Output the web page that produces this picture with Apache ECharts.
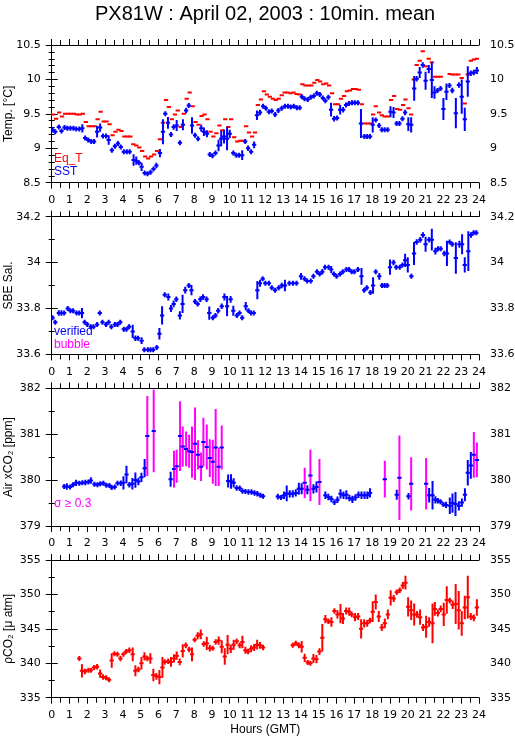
<!DOCTYPE html>
<html>
<head>
<meta charset="utf-8">
<script src="https://cdn.jsdelivr.net/npm/echarts@6/dist/echarts.min.js"></script>
<style>
  html, body { margin: 0; padding: 0; background: #fff; }
  #main { width: 515px; height: 739px; }
</style>
</head>
<body>
<div id="main"></div>
<script>
// [hour GMT, value] and [hour GMT, value, half error bar]
var eqT = [
  [0.08,9.49],[0.25,9.43],[0.42,9.52],[0.58,9.46],[0.75,9.50],[0.92,9.50],[1.08,9.50],[1.25,9.50],[1.42,9.49],[1.58,9.49],
  [1.75,9.50],[1.92,9.38],[2.08,9.32],[2.25,9.32],[2.42,9.32],[2.58,9.42],[2.75,9.53],[2.92,9.39],[3.08,9.39],[3.25,9.35],
  [3.42,9.19],[3.58,9.24],[3.75,9.27],[3.92,9.25],[4.08,9.17],[4.25,9.17],[4.42,9.17],[4.58,9.06],[4.75,9.04],[4.92,9.01],
  [5.08,8.96],[5.25,8.88],[5.42,8.85],[5.58,8.88],[5.75,8.91],[5.92,8.96],[6.08,9.13],[6.25,9.37],[6.42,9.70],[6.58,9.60],
  [6.75,9.42],[6.92,9.49],[7.08,9.55],[7.25,9.31],[7.42,9.50],[7.58,9.72],[7.75,9.81],[7.92,9.61],[8.08,9.38],[8.25,9.34],
  [8.42,9.47],[8.58,9.49],[8.75,9.42],[8.92,9.24],[9.08,9.17],[9.25,9.22],[9.42,9.33],[9.58,9.26],[9.75,9.42],[9.92,9.31],
  [10.08,9.42],[10.25,9.16],[10.42,9.10],[10.58,9.11],[10.75,9.11],[10.92,9.32],[11.08,9.23],[11.25,9.17],[11.42,9.23],
  [11.58,9.63],[11.75,9.71],[11.92,9.83],[12.08,9.78],[12.25,9.75],[12.42,9.72],[12.58,9.70],[12.75,9.72],[12.92,9.77],
  [13.08,9.81],[13.25,9.81],[13.42,9.80],[13.58,9.81],[13.75,9.79],[13.92,9.78],[14.08,9.93],[14.25,9.91],[14.42,9.91],
  [14.58,9.91],[14.75,9.95],[14.92,9.99],[15.08,9.97],[15.25,9.93],[15.42,9.94],[15.58,9.91],[15.75,9.80],[15.92,9.64],
  [16.08,9.64],[16.25,9.72],[16.42,9.76],[16.58,9.83],[16.75,9.84],[16.92,9.86],[17.08,9.86],[17.25,9.85],[17.42,9.64],
  [17.58,9.36],[17.75,9.36],[17.92,9.36],[18.05,9.49],[18.2,9.61],[18.39,9.52],[18.54,9.48],[18.7,9.46],[18.87,9.46],
  [19.06,9.70],[19.23,9.76],[19.4,9.57],[19.57,9.56],[19.74,9.63],[19.87,9.71],[20.04,9.58],[20.19,9.49],[20.33,10.00],
  [20.5,10.21],[20.67,10.27],[20.84,10.41],[21.0,10.19],[21.18,10.30],[21.35,10.25],[21.52,10.04],[21.68,10.04],[21.85,10.04],
  [22.35,10.08],[22.5,10.07],[22.67,10.07],[22.84,10.07],[23.03,10.02],[23.2,9.65],[23.37,10.07],[23.54,10.27],[23.71,10.29],[23.88,10.30]
];
var sst = [
  [0.05,9.27,0.04],[0.2,9.24,0.03],[0.4,9.31,0.03],[0.55,9.25,0.03],[0.72,9.30,0.03],[0.88,9.29,0.02],[1.05,9.29,0.02],
  [1.22,9.29,0.02],[1.38,9.28,0.02],[1.55,9.28,0.02],[1.72,9.29,0.06],[1.88,9.15,0.03],[2.05,9.12,0.02],[2.22,9.10,0.02],
  [2.38,9.10,0.02],[2.55,9.24,0.085],[2.72,9.30,0.06],[2.88,9.18,0.02],[3.05,9.18,0.02],[3.2,9.12,0.07],[3.38,8.97,0.02],
  [3.55,9.03,0.03],[3.72,9.07,0.03],[3.88,9.02,0.03],[4.05,8.95,0.02],[4.22,8.95,0.02],[4.38,8.95,0.02],[4.6,8.83,0.085],
  [4.75,8.82,0.06],[4.9,8.79,0.03],[5.05,8.73,0.06],[5.22,8.64,0.03],[5.38,8.63,0.02],[5.55,8.65,0.02],[5.72,8.70,0.03],
  [5.88,8.75,0.04],[6.08,8.93,0.06],[6.25,9.24,0.18],[6.38,9.50,0.03],[6.53,9.37,0.085],[6.7,9.20,0.03],[6.85,9.31,0.04],
  [7.02,9.33,0.08],[7.2,9.08,0.03],[7.37,9.34,0.08],[7.55,9.55,0.04],[7.7,9.62,0.02],[7.88,9.33,0.12],[8.05,9.19,0.03],
  [8.22,9.14,0.03],[8.4,9.29,0.05],[8.55,9.24,0.06],[8.72,9.21,0.05],[8.88,8.91,0.03],[9.03,8.89,0.02],[9.2,8.93,0.02],
  [9.37,9.04,0.085],[9.52,9.14,0.11],[9.68,9.17,0.1],[9.85,9.14,0.17],[10.0,9.21,0.06],[10.2,8.93,0.03],[10.37,8.90,0.02],
  [10.53,8.90,0.03],[10.7,8.90,0.07],[10.87,9.10,0.03],[11.03,9.00,0.04],[11.2,8.95,0.02],[11.37,9.05,0.05],[11.53,9.48,0.07],
  [11.7,9.52,0.04],[11.87,9.61,0.02],[12.03,9.58,0.02],[12.2,9.53,0.02],[12.36,9.54,0.02],[12.55,9.49,0.03],[12.73,9.55,0.02],
  [12.92,9.58,0.02],[13.1,9.61,0.02],[13.27,9.61,0.02],[13.43,9.60,0.02],[13.6,9.61,0.02],[13.77,9.59,0.02],[13.93,9.59,0.02],
  [14.05,9.75,0.03],[14.2,9.72,0.02],[14.38,9.71,0.02],[14.55,9.74,0.02],[14.72,9.76,0.02],[14.89,9.80,0.02],[15.06,9.78,0.02],
  [15.23,9.73,0.03],[15.37,9.69,0.02],[15.54,9.74,0.02],[15.69,9.56,0.1],[15.86,9.43,0.04],[16.03,9.44,0.03],[16.2,9.56,0.07],
  [16.37,9.56,0.04],[16.53,9.63,0.02],[16.7,9.65,0.02],[16.87,9.66,0.02],[17.03,9.66,0.02],[17.2,9.66,0.02],[17.37,9.36,0.21],
  [17.56,9.17,0.02],[17.72,9.17,0.02],[17.88,9.17,0.02],[18.03,9.34,0.11],[18.2,9.41,0.03],[18.39,9.33,0.03],[18.54,9.27,0.02],
  [18.7,9.27,0.02],[18.87,9.27,0.02],[19.03,9.53,0.08],[19.2,9.52,0.08],[19.37,9.36,0.02],[19.53,9.36,0.03],[19.7,9.43,0.03],
  [19.85,9.52,0.04],[20.03,9.35,0.1],[20.19,9.34,0.11],[20.36,9.87,0.18],[20.5,10.01,0.04],[20.67,10.10,0.08],[20.84,10.21,0.04],
  [21.0,9.98,0.13],[21.18,10.15,0.06],[21.35,9.99,0.26],[21.5,9.81,0.09],[21.67,9.84,0.03],[21.84,9.87,0.03],[22.0,9.57,0.16],
  [22.17,9.82,0.12],[22.34,9.91,0.03],[22.5,9.84,0.04],[22.7,9.51,0.22],[22.87,9.92,0.04],[23.03,9.75,0.25],[23.2,9.42,0.17],
  [23.37,9.97,0.22],[23.54,10.09,0.04],[23.71,10.10,0.04],[23.88,10.13,0.05]
];
var salinity = [
  [0.05,33.76,0.01],[0.2,33.74,0.01],[0.4,33.78,0.012],[0.55,33.78,0.012],[0.7,33.78,0.01],[0.9,33.80,0.008],[1.05,33.79,0.008],
  [1.2,33.79,0.008],[1.4,33.78,0.008],[1.55,33.78,0.008],[1.7,33.78,0.022],[1.85,33.74,0.01],[2.0,33.73,0.008],[2.2,33.72,0.008],
  [2.35,33.72,0.008],[2.55,33.73,0.01],[2.7,33.78,0.008],[2.85,33.74,0.008],[3.05,33.73,0.008],[3.2,33.74,0.008],[3.35,33.72,0.008],
  [3.55,33.73,0.008],[3.7,33.73,0.008],[3.85,33.74,0.008],[4.05,33.71,0.008],[4.2,33.71,0.008],[4.35,33.72,0.01],[4.55,33.70,0.029],
  [4.7,33.67,0.012],[4.85,33.67,0.008],[5.05,33.66,0.015],[5.2,33.62,0.008],[5.4,33.62,0.008],[5.55,33.62,0.008],[5.7,33.62,0.008],
  [5.9,33.63,0.008],[6.05,33.69,0.025],[6.2,33.77,0.04],[6.35,33.86,0.008],[6.55,33.85,0.015],[6.7,33.80,0.015],[6.85,33.82,0.015],
  [7.0,33.84,0.012],[7.2,33.77,0.018],[7.35,33.82,0.04],[7.5,33.88,0.015],[7.7,33.90,0.008],[7.85,33.88,0.022],[8.05,33.83,0.008],
  [8.2,33.82,0.008],[8.35,33.84,0.012],[8.5,33.85,0.012],[8.7,33.84,0.012],[8.85,33.78,0.029],[9.05,33.76,0.008],[9.2,33.77,0.008],
  [9.35,33.79,0.012],[9.55,33.81,0.012],[9.7,33.85,0.015],[9.85,33.81,0.044],[10.05,33.84,0.015],[10.2,33.79,0.022],[10.4,33.77,0.008],
  [10.55,33.78,0.008],[10.7,33.76,0.008],[10.9,33.81,0.018],[11.05,33.79,0.008],[11.2,33.78,0.008],[11.35,33.78,0.01],[11.55,33.88,0.04],
  [11.7,33.91,0.015],[11.85,33.93,0.008],[12.0,33.91,0.008],[12.2,33.91,0.008],[12.36,33.89,0.008],[12.55,33.88,0.008],[12.75,33.89,0.008],
  [12.92,33.90,0.012],[13.1,33.90,0.025],[13.35,33.91,0.008],[13.55,33.91,0.008],[13.75,33.91,0.008],[14.0,33.94,0.015],[14.2,33.93,0.01],
  [14.35,33.92,0.008],[14.55,33.92,0.008],[14.7,33.94,0.008],[14.9,33.96,0.008],[15.05,33.95,0.01],[15.2,33.96,0.012],[15.35,33.98,0.008],
  [15.55,33.98,0.008],[15.7,33.97,0.015],[15.85,33.95,0.01],[16.0,33.94,0.01],[16.2,33.95,0.008],[16.35,33.96,0.008],[16.55,33.97,0.008],
  [16.7,33.97,0.008],[16.85,33.96,0.008],[17.0,33.96,0.008],[17.2,33.97,0.008],[17.4,33.94,0.036],[17.55,33.88,0.008],[17.7,33.89,0.008],
  [17.9,33.87,0.008],[18.05,33.90,0.036],[18.2,33.96,0.008],[18.4,33.94,0.015],[18.55,33.90,0.008],[18.7,33.90,0.008],[18.85,33.90,0.01],
  [19.0,33.98,0.033],[19.2,34.00,0.012],[19.35,33.98,0.01],[19.55,33.98,0.008],[19.7,33.99,0.008],[19.85,34.01,0.029],[20.0,33.99,0.033],
  [20.2,33.94,0.008],[20.35,34.04,0.05],[20.5,34.09,0.012],[20.7,34.10,0.012],[20.85,34.12,0.012],[21.0,34.08,0.033],[21.2,34.10,0.012],
  [21.35,34.10,0.047],[21.55,34.05,0.015],[21.7,34.06,0.008],[21.85,34.06,0.008],[22.05,34.04,0.012],[22.2,34.04,0.055],[22.35,34.09,0.008],
  [22.5,34.08,0.008],[22.7,34.02,0.069],[22.9,34.08,0.015],[23.05,34.08,0.044],[23.2,33.99,0.033],[23.4,34.05,0.087],[23.55,34.12,0.012],
  [23.7,34.13,0.008],[23.85,34.13,0.008]
];
var airVerified = [
  [0.7,379.86,0.05],[0.85,379.86,0.07],[1.03,379.85,0.05],[1.2,379.90,0.05],[1.37,379.94,0.07],[1.55,379.93,0.05],[1.72,379.94,0.05],
  [1.89,379.95,0.06],[2.06,379.96,0.05],[2.2,379.99,0.07],[2.4,379.91,0.05],[2.57,379.90,0.05],[2.73,379.92,0.05],[2.9,379.93,0.05],
  [3.07,379.89,0.04],[3.24,379.88,0.04],[3.37,379.84,0.04],[3.54,379.85,0.05],[3.7,379.93,0.05],[3.88,379.93,0.06],[4.03,379.94,0.145],
  [4.2,380.12,0.19],[4.36,379.90,0.06],[4.53,379.92,0.127],[4.7,380.00,0.167],[4.87,379.97,0.08],[5.04,380.06,0.1],[5.22,380.26,0.2],
  [6.68,380.02,0.163],[9.91,379.98,0.14],[10.07,379.97,0.16],[10.22,379.94,0.1],[10.39,379.83,0.06],[10.56,379.82,0.06],[10.71,379.76,0.06],
  [10.88,379.75,0.05],[11.05,379.74,0.06],[11.22,379.74,0.06],[11.39,379.72,0.06],[11.55,379.70,0.06],[11.72,379.67,0.05],[11.87,379.65,0.04],
  [12.7,379.64,0.06],[12.88,379.62,0.05],[13.05,379.67,0.08],[13.2,379.71,0.17],[13.37,379.70,0.08],[13.54,379.70,0.08],[13.71,379.72,0.08],
  [13.88,379.81,0.13],[14.04,379.81,0.12],[14.36,379.79,0.1],[14.7,379.81,0.1],[14.87,379.85,0.12],[15.37,379.67,0.08],[15.54,379.63,0.07],
  [15.71,379.59,0.07],[15.88,379.52,0.06],[16.05,379.57,0.07],[16.22,379.70,0.1],[16.39,379.67,0.08],[16.55,379.68,0.1],[16.72,379.61,0.07],
  [16.89,379.58,0.08],[17.06,379.62,0.07],[17.23,379.68,0.07],[17.4,379.67,0.08],[17.57,379.67,0.08],[17.73,379.67,0.08],[17.88,379.72,0.1],
  [19.38,379.68,0.11],[20.04,379.65,0.07],[21.2,379.67,0.16],[21.39,379.67,0.31],[21.55,379.57,0.08],[21.69,379.55,0.06],[21.84,379.53,0.05],
  [22.0,379.47,0.05],[22.15,379.46,0.07],[22.36,379.44,0.18],[22.51,379.50,0.21],[22.68,379.48,0.26],[22.87,379.44,0.1],[23.04,379.51,0.09],
  [23.21,379.68,0.14],[23.37,380.16,0.28],[23.54,380.32,0.29]
];
var airBubble = [
  [5.37,380.96,0.87],[5.73,381.07,0.9],[6.87,380.24,0.4],[7.02,380.30,0.36],[7.21,380.96,0.76],[7.36,380.73,0.44],[7.55,380.68,0.38],
  [7.72,380.63,0.36],[7.88,380.61,0.56],[8.05,380.79,0.79],[8.22,380.55,0.32],[8.39,380.29,0.31],[8.52,380.83,0.53],[8.71,380.72,0.49],
  [8.88,380.48,0.41],[9.05,380.40,0.48],[9.21,380.71,0.84],[9.38,380.29,0.42],[9.55,380.71,0.48],[14.21,379.94,0.33],[14.53,380.10,0.56],
  [15.04,379.96,0.5],[18.71,380.02,0.4],[19.53,380.05,0.92],[20.19,379.92,0.58],[21.03,379.92,0.56],[23.71,380.55,0.5],[23.88,380.44,0.38]
];
var pco2 = [
  [1.55,340.7,0.3],[1.7,338.9,0.96],[1.87,338.8,0.4],[2.06,339.0,0.3],[2.2,339.0,0.3],[2.38,339.4,0.3],[2.55,339.5,0.4],[2.72,338.5,0.6],
  [2.88,338.0,0.4],[3.05,337.9,0.3],[3.22,337.6,0.3],[3.37,340.4,1.06],[3.52,341.4,0.3],[3.69,341.3,0.3],[3.86,340.7,0.4],[4.03,341.3,0.3],
  [4.18,341.7,0.3],[4.36,341.9,0.4],[4.55,341.3,1.0],[4.7,338.9,0.8],[4.87,339.1,0.4],[5.04,340.0,0.9],[5.21,341.0,0.6],[5.37,340.7,0.4],
  [5.54,340.7,0.77],[5.71,338.3,0.9],[5.88,338.1,0.5],[6.05,338.0,1.03],[6.22,339.4,1.5],[6.35,340.2,0.4],[6.54,340.3,0.4],[6.7,340.2,0.72],
  [6.87,340.7,0.6],[7.02,341.1,0.6],[7.19,340.2,0.5],[7.36,341.8,0.96],[7.53,342.6,0.4],[7.72,342.0,0.4],[7.88,341.3,1.0],[8.03,343.4,0.3],
  [8.2,344.0,0.5],[8.37,344.2,0.72],[8.54,342.8,0.4],[8.71,342.9,0.96],[8.88,342.2,0.5],[9.04,342.2,0.3],[9.21,343.1,0.4],[9.38,343.3,0.6],
  [9.55,342.4,0.96],[9.72,341.0,1.2],[9.88,342.7,1.4],[10.06,342.1,0.6],[10.22,342.7,0.72],[10.39,343.2,0.4],[10.56,342.6,0.4],[10.71,343.1,0.9],
  [10.88,341.9,0.5],[11.03,341.7,0.4],[11.2,342.1,0.5],[11.37,342.3,0.5],[11.54,342.7,0.7],[11.7,342.6,0.5],[11.87,342.3,0.4],
  [13.54,342.6,0.3],[13.71,342.9,0.3],[13.88,342.6,0.4],[14.04,342.4,0.84],[14.21,340.8,0.6],[14.38,340.1,0.3],[14.53,340.0,0.3],[14.7,340.7,0.65],
  [14.87,340.6,0.6],[15.04,341.7,0.5],[15.2,343.7,2.0],[15.37,346.4,0.6],[15.54,346.1,0.4],[15.71,346.0,0.7],[15.88,347.6,0.4],[16.05,347.1,0.6],
  [16.22,347.2,1.4],[16.36,346.5,0.8],[16.54,347.6,0.5],[16.71,347.5,0.6],[16.85,347.1,0.4],[17.04,346.7,0.6],[17.21,346.8,0.5],[17.38,345.0,1.4],
  [17.55,345.8,0.6],[17.72,345.8,0.5],[17.88,346.2,0.4],[18.03,347.5,1.5],[18.2,348.9,1.1],[18.37,346.8,0.8],[18.54,345.2,0.5],[18.71,345.8,0.7],
  [18.88,347.1,0.7],[19.04,349.5,1.1],[19.21,349.4,0.5],[19.38,350.3,0.4],[19.55,350.6,0.4],[19.72,351.3,0.5],[19.87,351.7,1.0],[20.02,348.2,1.4],
  [20.19,347.7,1.4],[20.36,347.1,1.6],[20.52,347.1,0.5],[20.69,346.7,1.1],[20.86,345.2,0.5],[21.03,345.3,1.6],[21.2,346.0,0.7],[21.39,345.8,2.9],
  [21.52,347.9,1.0],[21.69,347.3,0.5],[21.85,347.9,0.5],[22.02,347.1,1.7],[22.19,349.2,2.0],[22.36,349.1,0.4],[22.52,348.5,0.6],[22.69,348.6,2.9],
  [22.86,347.7,2.8],[23.03,345.8,1.8],[23.2,348.1,1.7],[23.37,349.6,3.1],[23.54,346.8,0.5],[23.71,346.6,0.5],[23.88,348.1,1.2]
];

var hourTicks = [0, 24];
var tempTicks = [8.5, 9, 9.5, 10, 10.5];
var salTicks = [33.6, 33.8, 34, 34.2];
var airTicks = [379, 380, 381, 382];
var pco2Ticks = [335, 340, 345, 350, 355];

var RED = '#ff0000', BLUE = '#0000ff', MAGENTA = '#ff00ff';
var labelFont = { fontFamily: 'DejaVu Sans', fontSize: 11, color: '#000' };

var panels = [
  { top: 45, ticks: tempTicks, minor: 5, name: 'Temp. [°C]' },
  { top: 216.7, ticks: salTicks, minor: 2, name: 'SBE Sal.' },
  { top: 388.3, ticks: airTicks, minor: 2, name: 'Air xCO₂ [ppm]' },
  { top: 560, ticks: pco2Ticks, minor: 2, name: 'ρCO₂ [μ atm]' }
];

function crossRenderer(dashColor, barColor) {
  return function (params, api) {
    var t = api.value(0), v = api.value(1), e = api.value(2);
    var c = api.coord([t, v]);
    var l = api.coord([t - 0.12, v]);
    var r = api.coord([t + 0.12, v]);
    var kids = [];
    if (barColor) {
      var hi = api.coord([t, v + e])[1];
      var lo = api.coord([t, v - e])[1];
      kids.push({
        type: 'line',
        shape: { x1: c[0], y1: Math.min(hi, c[1] - 2.5), x2: c[0], y2: Math.max(lo, c[1] + 2.5) },
        style: { stroke: barColor, lineWidth: 2 }
      });
    }
    kids.push({
      type: 'line',
      shape: { x1: l[0], y1: c[1], x2: r[0], y2: c[1] },
      style: { stroke: dashColor, lineWidth: 2 }
    });
    return { type: 'group', children: kids };
  };
}

function tickLabel(v) {
  return String(Math.round(v * 100) / 100);
}

var grids = [], xAxes = [], yAxes = [];
panels.forEach(function (p, i) {
  var tk = p.ticks;
  grids.push({
    left: 51.7, right: 36, top: p.top, height: 137.7,
    containLabel: false, outerBoundsMode: 'none'
  });
  var axisLine = { show: true, lineStyle: { color: '#000', width: 1 } };
  // bottom hours axis
  xAxes.push({
    type: 'value', gridIndex: i, position: 'bottom',
    min: hourTicks[0], max: hourTicks[1], interval: 1,
    name: i === 3 ? 'Hours (GMT)' : '', nameLocation: 'middle', nameGap: 26,
    nameTextStyle: { fontFamily: 'Liberation Sans', fontSize: 12, color: '#000' },
    axisLine: axisLine,
    axisTick: { show: true, length: 6, lineStyle: { color: '#000' } },
    minorTick: { show: true, splitNumber: 2, length: 5, lineStyle: { color: '#000' } },
    axisLabel: Object.assign({ margin: 12, formatter: tickLabel }, labelFont),
    splitLine: { show: false }
  });
  // top hours axis, ticks only
  xAxes.push({
    type: 'value', gridIndex: i, position: 'top',
    min: hourTicks[0], max: hourTicks[1], interval: 1,
    axisLine: axisLine,
    axisTick: { show: true, length: 6, lineStyle: { color: '#000' } },
    minorTick: { show: true, splitNumber: 2, length: 5, lineStyle: { color: '#000' } },
    axisLabel: { show: false },
    splitLine: { show: false }
  });
  var yBase = {
    type: 'value', gridIndex: i,
    min: tk[0], max: tk[tk.length - 1], interval: Math.round((tk[1] - tk[0]) * 100) / 100,
    axisLine: axisLine,
    axisTick: { show: true, length: 6, lineStyle: { color: '#000' } },
    minorTick: { show: true, splitNumber: p.minor, length: 3, lineStyle: { color: '#000' } },
    axisLabel: Object.assign({ margin: 11, showMinLabel: true, showMaxLabel: true, formatter: tickLabel }, labelFont),
    splitLine: { show: false }
  };
  yAxes.push(Object.assign({}, yBase, {
    position: 'left', name: p.name, nameLocation: 'middle', nameRotate: 90,
    nameGap: 37, nameMoveOverlap: false,
    nameTextStyle: { fontFamily: 'Liberation Sans', fontSize: 12, color: '#000' }
  }));
  yAxes.push(Object.assign({}, yBase, { position: 'right' }));
});

function seriesFor(panel, data, dashColor, barColor) {
  return {
    type: 'custom', xAxisIndex: panel * 2, yAxisIndex: panel * 2,
    data: data, clip: true, silent: true,
    dimensions: ['h', 'v', 'e'],
    encode: { x: 0, y: 1 },
    renderItem: crossRenderer(dashColor, barColor)
  };
}

var eqTData = eqT.map(function (d) { return [d[0], d[1], 0]; });

function note(x, y, text, color) {
  return {
    type: 'text', left: x, top: y,
    style: { text: text, fill: color, font: '12px "Liberation Sans"' }
  };
}

var chart = echarts.init(document.getElementById('main'));
chart.setOption({
  animation: false,
  backgroundColor: '#fff',
  title: {
    text: 'PX81W : April 02, 2003 : 10min. mean',
    left: 90, top: -1,
    textStyle: { fontFamily: 'Liberation Sans', fontSize: 20, fontWeight: 'normal', color: '#000' }
  },
  grid: grids,
  xAxis: xAxes,
  yAxis: yAxes,
  graphic: [
    note(54, 153, 'Eq_T', RED),
    note(54, 166, 'SST', BLUE),
    note(54, 326, 'verified', BLUE),
    note(54, 339, 'bubble', MAGENTA),
    note(54, 498, 'σ ≥ 0.3', MAGENTA)
  ],
  series: [
    seriesFor(0, eqTData, RED, null),
    seriesFor(0, sst, BLUE, BLUE),
    seriesFor(1, salinity, BLUE, BLUE),
    seriesFor(2, airBubble, BLUE, MAGENTA),
    seriesFor(2, airVerified, BLUE, BLUE),
    seriesFor(3, pco2, RED, RED)
  ]
});
</script>
</body>
</html>
